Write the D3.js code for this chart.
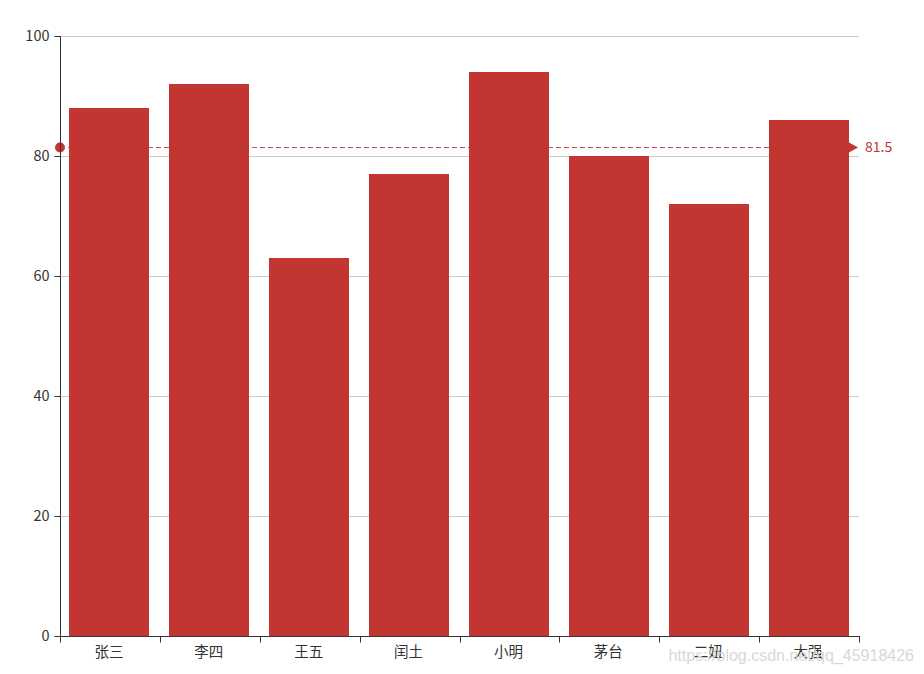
<!DOCTYPE html>
<html>
<head>
<meta charset="utf-8">
<script src="https://cdn.jsdelivr.net/npm/d3@7"></script>
<style>
  body { margin: 0; background: #fff; }
  svg text { font-family: "Microsoft YaHei", "Noto Sans CJK SC", sans-serif; }
</style>
</head>
<body>
<div id="chart"></div>
<script>
const names = ["张三", "李四", "王五", "闰土", "小明", "茅台", "二妞", "大强"];
const scores = [88, 92, 63, 77, 94, 80, 72, 86];
const yTicks = [0, 20, 40, 60, 80, 100];

const width = 924, height = 674;
const margin = {top: 36, right: 65, bottom: 38, left: 60};
const color = "#c23531";

const svg = d3.select("#chart").append("svg")
  .attr("width", width)
  .attr("height", height);

const x = d3.scaleBand()
  .domain(names)
  .range([margin.left, width - margin.right])
  .paddingInner(0.2)
  .paddingOuter(0.1);

// band positions for ticks (full category width)
const xCat = d3.scaleBand()
  .domain(names)
  .range([margin.left, width - margin.right]);

const y = d3.scaleLinear()
  .domain([0, 100])
  .range([height - margin.bottom, margin.top]);

// grid lines
svg.append("g")
  .selectAll("line")
  .data(yTicks.filter(d => d > 0))
  .join("line")
    .attr("x1", margin.left)
    .attr("x2", width - margin.right)
    .attr("y1", d => y(d) + 0.5)
    .attr("y2", d => y(d) + 0.5)
    .attr("stroke", "#ccc");

// average mark line (under bars)
const avg = d3.mean(scores);
const avgY = Math.round(y(avg)) + 0.5;
svg.append("line")
  .attr("x1", margin.left)
  .attr("x2", width - margin.right - 8)
  .attr("y1", avgY)
  .attr("y2", avgY)
  .attr("stroke", "#d0585a")
  .attr("stroke-width", 1)
  .attr("stroke-dasharray", "5,3");

// bars
svg.append("g")
  .selectAll("rect")
  .data(scores)
  .join("rect")
    .attr("x", (d, i) => Math.floor(x(names[i])))
    .attr("y", d => y(d))
    .attr("width", Math.round(x.bandwidth()))
    .attr("height", d => y(0) - y(d))
    .attr("fill", color);

// mark line symbols + label
svg.append("circle")
  .attr("cx", margin.left)
  .attr("cy", avgY)
  .attr("r", 5)
  .attr("fill", color);

const ax = width - margin.right;
svg.append("path")
  .attr("d", `M${ax - 10},${avgY - 5} L${ax - 1},${avgY} L${ax - 10},${avgY + 5} Z`)
  .attr("fill", color);

svg.append("text")
  .attr("x", ax + 6)
  .attr("y", avgY)
  .attr("dy", "0.35em")
  .attr("fill", color)
  .attr("font-size", 14)
  .text(avg);

// y axis
const yAxis = d3.axisLeft(y)
  .tickValues(yTicks)
  .tickSize(6)
  .tickPadding(5);

svg.append("g")
  .attr("transform", `translate(${margin.left + 0.5},0)`)
  .call(yAxis)
  .call(g => g.selectAll("path, line").attr("stroke", "#333"))
  .call(g => g.select(".domain").attr("d", `M0,${y(0)}V${y(100)}`))
  .call(g => g.selectAll("text").attr("fill", "#333").attr("font-size", 14.5)
    .style("font-family", "'Microsoft YaHei', 'Noto Sans CJK SC', sans-serif"));

// x axis
const xg = svg.append("g")
  .attr("transform", `translate(0,${y(0) + 0.5})`);

xg.append("line")
  .attr("x1", margin.left)
  .attr("x2", width - margin.right + 1)
  .attr("stroke", "#333");

const bounds = names.map(n => xCat(n)).concat([xCat.range()[1]]);
xg.selectAll(".tick")
  .data(bounds)
  .join("line")
    .attr("class", "tick")
    .attr("x1", d => Math.round(d) + 0.5)
    .attr("x2", d => Math.round(d) + 0.5)
    .attr("y1", 0)
    .attr("y2", 6)
    .attr("stroke", "#333");

xg.selectAll(".lbl")
  .data(names)
  .join("text")
    .attr("class", "lbl")
    .attr("x", d => xCat(d) + xCat.bandwidth() / 2 - 1)
    .attr("y", 20)
    .attr("text-anchor", "middle")
    .attr("fill", "#333")
    .attr("font-size", 14.5)
    .text(d => d);

// watermark
svg.append("text")
  .attr("x", 914)
  .attr("y", 661)
  .attr("text-anchor", "end")
  .attr("fill", "#d8d8d8")
  .attr("font-size", 16)
  .style("font-family", "Arial, 'Liberation Sans', sans-serif")
  .text("https://blog.csdn.net/qq_45918426");
</script>
</body>
</html>
